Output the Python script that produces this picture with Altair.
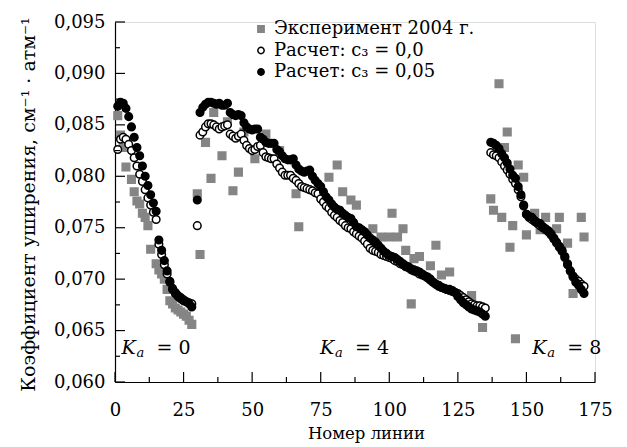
import altair as alt
import pandas as pd

FONT = "DejaVu Serif"
GRAY = "#858585"

SERIES = ["Эксперимент 2004 г.", "Расчет: c₃ = 0,0", "Расчет: c₃ = 0,05"]

# ---- K_a = 0 segment ----
left_lines = list(range(1, 29))
left_c0 = [0.0826, 0.0836, 0.0838, 0.0836, 0.0831, 0.0825, 0.0818, 0.0810, 0.0802, 0.0795,
           0.0787, 0.0779, 0.0772, 0.0765, 0.0758, 0.0734, 0.0724, 0.0714, 0.0705, 0.0697,
           0.0691, 0.0687, 0.0684, 0.0682, 0.0680, 0.0678, 0.0677, 0.0676]
left_c05 = [0.0868, 0.0872, 0.0871, 0.0866, 0.0858, 0.0848, 0.0838, 0.0828, 0.0820, 0.0810,
            0.0800, 0.0791, 0.0782, 0.0774, 0.0766, 0.0738, 0.0728, 0.0718, 0.0708, 0.0698,
            0.0690, 0.0686, 0.0683, 0.0681, 0.0679, 0.0678, 0.0676, 0.0673]

# ---- K_a = 4 segment ----
mid_lines = list(range(30, 136))
mid_c0 = [0.0752, 0.0840, 0.0843, 0.0848, 0.0851, 0.0851, 0.0850, 0.0848, 0.0846, 0.0848,
          0.0849, 0.0850, 0.0841, 0.0839, 0.0837, 0.0839, 0.0841, 0.0835, 0.0830, 0.0827,
          0.0825, 0.0826, 0.0829, 0.0830, 0.0823, 0.0819, 0.0818, 0.0817, 0.0817, 0.0812,
          0.0808, 0.0804, 0.0801, 0.0801, 0.0801, 0.0798, 0.0796, 0.0793, 0.0790, 0.0789,
          0.0788, 0.0787, 0.0786, 0.0784, 0.0783, 0.0778, 0.0775, 0.0771, 0.0769, 0.0765,
          0.0762, 0.0760, 0.0757, 0.0755, 0.0752, 0.0750, 0.0749, 0.0746, 0.0744, 0.0742,
          0.0740, 0.0737, 0.0734, 0.0730, 0.0728, 0.0727, 0.0726, 0.0724, 0.0723, 0.0722,
          0.0721, 0.0720, 0.0718, 0.0717, 0.0715, 0.0714, 0.0712, 0.0711, 0.0709, 0.0708,
          0.0707, 0.0705, 0.0704, 0.0703, 0.0701, 0.0699, 0.0697, 0.0695, 0.0694, 0.0692,
          0.0691, 0.0690, 0.0689, 0.0688, 0.0687, 0.0686, 0.0684, 0.0682, 0.0680, 0.0678,
          0.0676, 0.0675, 0.0674, 0.0674, 0.0673, 0.0672]
mid_c05 = [0.0777, 0.0862, 0.0867, 0.0870, 0.0872, 0.0872, 0.0871, 0.0870, 0.0871, 0.0869,
           0.0869, 0.0871, 0.0862, 0.0860, 0.0859, 0.0860, 0.0859, 0.0852, 0.0848, 0.0846,
           0.0845, 0.0846, 0.0846, 0.0838, 0.0836, 0.0833, 0.0832, 0.0832, 0.0832, 0.0826,
           0.0824, 0.0820, 0.0817, 0.0816, 0.0816, 0.0817, 0.0811, 0.0807, 0.0805, 0.0804,
           0.0805, 0.0806, 0.0800, 0.0796, 0.0793, 0.0790, 0.0785, 0.0780, 0.0777, 0.0773,
           0.0770, 0.0768, 0.0767, 0.0764, 0.0762, 0.0760, 0.0759, 0.0755, 0.0751, 0.0750,
           0.0748, 0.0746, 0.0743, 0.0740, 0.0738, 0.0736, 0.0733, 0.0730, 0.0727, 0.0725,
           0.0723, 0.0722, 0.0721, 0.0719, 0.0717, 0.0715, 0.0713, 0.0712, 0.0710, 0.0709,
           0.0708, 0.0707, 0.0705, 0.0703, 0.0702, 0.0700, 0.0697, 0.0695, 0.0693, 0.0692,
           0.0691, 0.0690, 0.0690, 0.0689, 0.0687, 0.0683, 0.0680, 0.0677, 0.0675, 0.0673,
           0.0671, 0.0670, 0.0669, 0.0668, 0.0666, 0.0664]

# ---- K_a = 8 segment ----
right_lines = list(range(137, 172))
right_c0 = [0.0823, 0.0821, 0.0820, 0.0818, 0.0814, 0.0810, 0.0806, 0.0802, 0.0797, 0.0793,
            0.0787, 0.0780, 0.0771, 0.0763, 0.0760, 0.0758, 0.0756, 0.0754, 0.0752, 0.0750,
            0.0748, 0.0746, 0.0743, 0.0739, 0.0735, 0.0731, 0.0727, 0.0721, 0.0714, 0.0708,
            0.0703, 0.0700, 0.0698, 0.0695, 0.0693]
right_c05 = [0.0833, 0.0832, 0.0830, 0.0827, 0.0822, 0.0818, 0.0813, 0.0807, 0.0801, 0.0798,
             0.0790, 0.0782, 0.0772, 0.0763, 0.0761, 0.0760, 0.0757, 0.0755, 0.0754, 0.0751,
             0.0749, 0.0747, 0.0744, 0.0740, 0.0736, 0.0732, 0.0728, 0.0722, 0.0715, 0.0708,
             0.0702, 0.0697, 0.0694, 0.0690, 0.0686]

# ---- experiment 2004 ----
exp_lines = [1, 2, 3, 4, 6, 7, 8, 9, 10, 11, 12, 13, 15, 16, 17, 18, 19, 20, 21, 22, 23, 24, 25, 26, 27, 28,
             30, 31, 33, 35, 36, 39, 41, 43, 45, 47, 51, 55, 60, 66, 67, 78, 81, 83, 86, 88, 94, 97,
             100, 101, 103, 105, 106, 108, 109, 111, 115, 117, 119, 122, 130, 134,
             137, 138, 140, 141, 142, 143, 144, 145, 146, 147, 149, 150, 153, 155, 157, 161, 162,
             165, 167, 170, 171]
exp_vals = [0.0859, 0.0840, 0.0828, 0.0809, 0.0797, 0.0785, 0.0776, 0.0773, 0.0764, 0.0760, 0.0752,
            0.0729, 0.0715, 0.0709, 0.0705, 0.0700, 0.0690, 0.0679, 0.0676, 0.0672, 0.0670, 0.0668,
            0.0666, 0.0664, 0.0660, 0.0656,
            0.0783, 0.0724, 0.0833, 0.0798, 0.0862, 0.0820, 0.0853, 0.0786, 0.0804, 0.0843, 0.0817,
            0.0841, 0.0825, 0.0783, 0.0751, 0.0799, 0.0811, 0.0785, 0.0777, 0.0772, 0.0749, 0.0741,
            0.0741, 0.0764, 0.0741, 0.0749, 0.0728, 0.0676, 0.0720, 0.0722, 0.0713, 0.0733, 0.0704,
            0.0707, 0.0684, 0.0653,
            0.0778, 0.0767, 0.0890, 0.0760, 0.0828, 0.0843, 0.0731, 0.0752, 0.0642, 0.0811, 0.0799,
            0.0743, 0.0764, 0.0748, 0.0760, 0.0749, 0.0760, 0.0735, 0.0686, 0.0760, 0.0741]

# axis ticks
x_major = [0, 25, 50, 75, 100, 125, 150, 175]
x_minor = [12.5, 37.5, 62.5, 87.5, 112.5, 137.5, 162.5]
y_major = [0.060, 0.065, 0.070, 0.075, 0.080, 0.085, 0.090, 0.095]
y_minor = [0.0625, 0.0675, 0.0725, 0.0775, 0.0825, 0.0875, 0.0925]

# K_a annotations
ka_x = [2.4, 74.7, 152.1]
ka_y = [0.0627, 0.0627, 0.0627]
ka_val = ["0", "4", "8"]

# ---- build table ----
recs = []
for x, v in zip(exp_lines, exp_vals):
    recs.append({"line": x, "val": v, "series": SERIES[0], "ord": 0})
for lines, vals in [(left_lines, left_c0), (mid_lines, mid_c0), (right_lines, right_c0)]:
    for x, v in zip(lines, vals):
        recs.append({"line": x, "val": v, "series": SERIES[1], "ord": 1})
for lines, vals in [(left_lines, left_c05), (mid_lines, mid_c05), (right_lines, right_c05)]:
    for x, v in zip(lines, vals):
        recs.append({"line": x, "val": v, "series": SERIES[2], "ord": 2})
df = pd.DataFrame(recs)

xscale = alt.Scale(domain=[0, 175], nice=False, zero=False)
yscale = alt.Scale(domain=[0.060, 0.095], nice=False, zero=False)

x_axis = alt.Axis(values=x_major, ticks=False, grid=False, domainColor="black",
                  domainWidth=1.2, labelFont=FONT, labelFontSize=18, labelColor="black",
                  labelPadding=19, labelFlush=False, labelOverlap=False,
                  title="Номер линии", titleFont=FONT, titleFontSize=16.5,
                  titleFontWeight="normal", titleColor="black",
                  titleX=251, titleY=56, titleBaseline="alphabetic", titleAlign="center")
y_axis = alt.Axis(values=y_major, ticks=False, grid=False, domainColor="black",
                  domainWidth=1.2, labelFont=FONT, labelFontSize=18, labelColor="black",
                  labelPadding=10, labelFlush=False, labelOverlap=False,
                  labelExpr="replace(format(datum.value, '.3f'), '.', ',')",
                  title="Коэффициент уширения, см⁻¹ · атм⁻¹", titleFont=FONT,
                  titleFontSize=19, titleFontWeight="normal", titleColor="black",
                  titleX=-87, titleY=182, titleAngle=270, titleBaseline="middle",
                  titleAlign="center")

legend = alt.Legend(orient="none", legendX=137, legendY=-2, title=None,
                    labelFont=FONT, labelFontSize=18, labelColor="black", labelLimit=400,
                    symbolSize=40, symbolStrokeWidth=1.5, rowPadding=3.5,
                    labelOffset=4, padding=0)

points = alt.Chart(df).mark_point(size=58, strokeWidth=1.5, opacity=1, filled=False).encode(
    x=alt.X("line:Q", scale=xscale, axis=x_axis),
    y=alt.Y("val:Q", scale=yscale, axis=y_axis),
    shape=alt.Shape("series:N", scale=alt.Scale(domain=SERIES, range=["square", "circle", "circle"]), legend=legend),
    fill=alt.Fill("series:N", scale=alt.Scale(domain=SERIES, range=[GRAY, "white", "black"]), legend=legend),
    stroke=alt.Stroke("series:N", scale=alt.Scale(domain=SERIES, range=[GRAY, "black", "black"]), legend=legend),
    order=alt.Order("ord:Q"),
)

ymaj = alt.Chart(pd.DataFrame({"val": y_major})).mark_rule(color="black", strokeWidth=1.2).encode(
    y=alt.Y("val:Q", scale=yscale, axis=y_axis), x=alt.value(0), x2=alt.value(10))
ymin = alt.Chart(pd.DataFrame({"val": y_minor})).mark_rule(color="black", strokeWidth=1.2).encode(
    y=alt.Y("val:Q", scale=yscale, axis=y_axis), x=alt.value(0), x2=alt.value(5))
xmaj = alt.Chart(pd.DataFrame({"line": x_major})).mark_rule(color="black", strokeWidth=1.2).encode(
    x=alt.X("line:Q", scale=xscale, axis=x_axis), y=alt.value(360), y2=alt.value(350))
xmin = alt.Chart(pd.DataFrame({"line": x_minor})).mark_rule(color="black", strokeWidth=1.2).encode(
    x=alt.X("line:Q", scale=xscale, axis=x_axis), y=alt.value(360), y2=alt.value(355))

ka_df = pd.DataFrame({"line": ka_x, "val": ka_y, "v": ka_val})
ka_base = alt.Chart(ka_df).encode(x=alt.X("line:Q", scale=xscale, axis=x_axis),
                                  y=alt.Y("val:Q", scale=yscale, axis=y_axis))
ka_K = ka_base.mark_text(text="K", align="left", baseline="alphabetic", font=FONT,
                         fontSize=19, fontStyle="italic", color="black")
ka_a = ka_base.mark_text(text="a", align="left", baseline="alphabetic", font=FONT,
                         fontSize=13, fontStyle="italic", color="black", dx=15, dy=3)
ka_eq = ka_base.mark_text(text="=", align="left", baseline="alphabetic", font=FONT,
                          fontSize=19, color="black", dx=35)
ka_n = ka_base.mark_text(align="left", baseline="alphabetic", font=FONT,
                         fontSize=19, color="black", dx=57).encode(text="v:N")

chart = alt.layer(points, ymaj, ymin, xmaj, xmin, ka_K, ka_a, ka_eq, ka_n).properties(
    width=480, height=360,
    padding={"left": 115, "top": 22, "right": 32, "bottom": 65},
    autosize=alt.AutoSizeParams(type="none"),
).configure_view(stroke=None).configure(background="white")

chart.save("out.html", embed_options={"renderer": "svg", "actions": False})
